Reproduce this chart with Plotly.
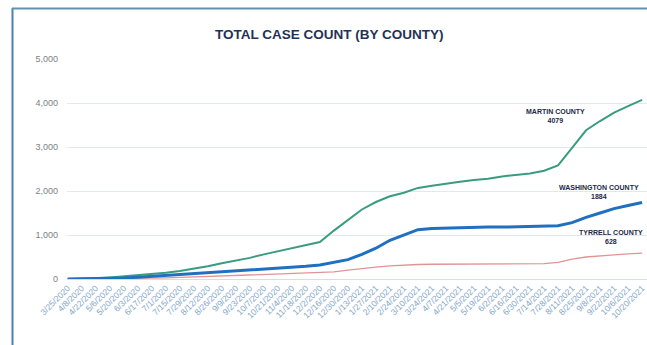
import plotly.graph_objects as go

dates = ["3/25/2020","4/8/2020","4/22/2020","5/6/2020","5/20/2020","6/3/2020","6/17/2020",
         "7/1/2020","7/15/2020","7/29/2020","8/12/2020","8/26/2020","9/9/2020","9/23/2020",
         "10/7/2020","10/21/2020","11/4/2020","11/18/2020","12/2/2020","12/16/2020","12/30/2020",
         "1/13/2021","1/27/2021","2/10/2021","2/24/2021","3/10/2021","3/24/2021","4/7/2021",
         "4/21/2021","5/5/2021","5/19/2021","6/2/2021","6/16/2021","6/30/2021","7/14/2021",
         "7/28/2021","8/11/2021","8/25/2021","9/8/2021","9/22/2021","10/6/2021","10/20/2021"]

martin = [0,5,15,35,60,80,110,140,180,230,290,360,420,480,560,630,700,770,840,1100,1330,
          1580,1750,1880,1960,2070,2120,2170,2210,2250,2280,2330,2370,2400,2460,2580,2980,
          3380,3590,3780,3930,4070]
washington = [0,3,8,15,25,40,60,80,100,120,140,160,180,200,220,240,260,290,320,380,440,
              560,700,880,1000,1120,1150,1160,1170,1170,1180,1180,1190,1190,1200,1210,1280,
              1400,1500,1600,1670,1740]
tyrrell = [0,2,5,8,12,16,20,25,35,45,55,65,75,85,95,105,115,125,135,160,200,240,270,300,
           320,330,335,335,338,340,340,342,345,345,350,380,450,500,530,550,570,590]

labels = [("MARTIN COUNTY", "4079", 34.8, 3700),
          ("WASHINGTON COUNTY", "1884", 37.9, 1980),
          ("TYRRELL COUNTY", "628", 38.75, 955)]

W, H = 647, 345
L, T, B, R = 67, 59, 66, 0
pw, ph = W - L - R, H - T - B

def px(x):
    return (x - L) / pw

def py(y):
    return (H - B - y) / ph

x = list(range(len(dates)))
fig = go.Figure()
fig.add_trace(go.Scatter(x=x, y=tyrrell, mode="lines", line=dict(color="#df9593", width=1.3),
                         name="Tyrrell County"))
fig.add_trace(go.Scatter(x=x, y=martin, mode="lines", line=dict(color="#3a9c7e", width=2),
                         name="Martin County"))
fig.add_trace(go.Scatter(x=x, y=washington, mode="lines", line=dict(color="#1f70c1", width=3),
                         name="Washington County"))

for name, val, xi, yv in labels:
    fig.add_annotation(x=xi, y=yv, xref="x", yref="y", showarrow=False,
                       text=f"<b>{name}</b><br><b>{val}</b>", align="center",
                       font=dict(family="Liberation Sans, Arial, sans-serif", size=7, color="#1b2a4a"))

fig.add_annotation(x=px(329), y=py(34), xref="paper", yref="paper", showarrow=False,
                   text="<b>TOTAL CASE COUNT (BY COUNTY)</b>", xanchor="center", yanchor="middle",
                   font=dict(family="Liberation Sans, Arial, sans-serif", size=13.5, color="#1f3358"))

# chart frame (left and top border)
fig.add_shape(type="line", xref="paper", yref="paper", x0=px(12.5), x1=px(12.5), y0=py(8), y1=py(350),
              line=dict(color="#4f7fba", width=2))
fig.add_shape(type="line", xref="paper", yref="paper", x0=px(12), x1=px(700), y0=py(8.5), y1=py(8.5),
              line=dict(color="#5e93ad", width=2))

fig.update_layout(
    width=W, height=H,
    margin=dict(l=L, r=R, t=T, b=B),
    paper_bgcolor="white", plot_bgcolor="white",
    showlegend=False,
    xaxis=dict(tickmode="array", tickvals=x, ticktext=dates, tickangle=-45,
               range=[-0.05, len(dates) - 0.65], showgrid=False, zeroline=False,
               showline=True, linecolor="#d6dde6", linewidth=1, ticks="",
               tickfont=dict(family="Liberation Sans, Arial, sans-serif", size=8.5, color="#7fa6c9")),
    yaxis=dict(range=[0, 5000], tickvals=[0, 1000, 2000, 3000, 4000, 5000],
               tickformat=",d", showgrid=True, gridcolor="#e3e8ef", gridwidth=1,
               zeroline=False, ticks="", ticklabelstandoff=8,
               tickfont=dict(family="Liberation Sans, Arial, sans-serif", size=9, color="#7a7f88")),
)

fig.write_html("out.html")
